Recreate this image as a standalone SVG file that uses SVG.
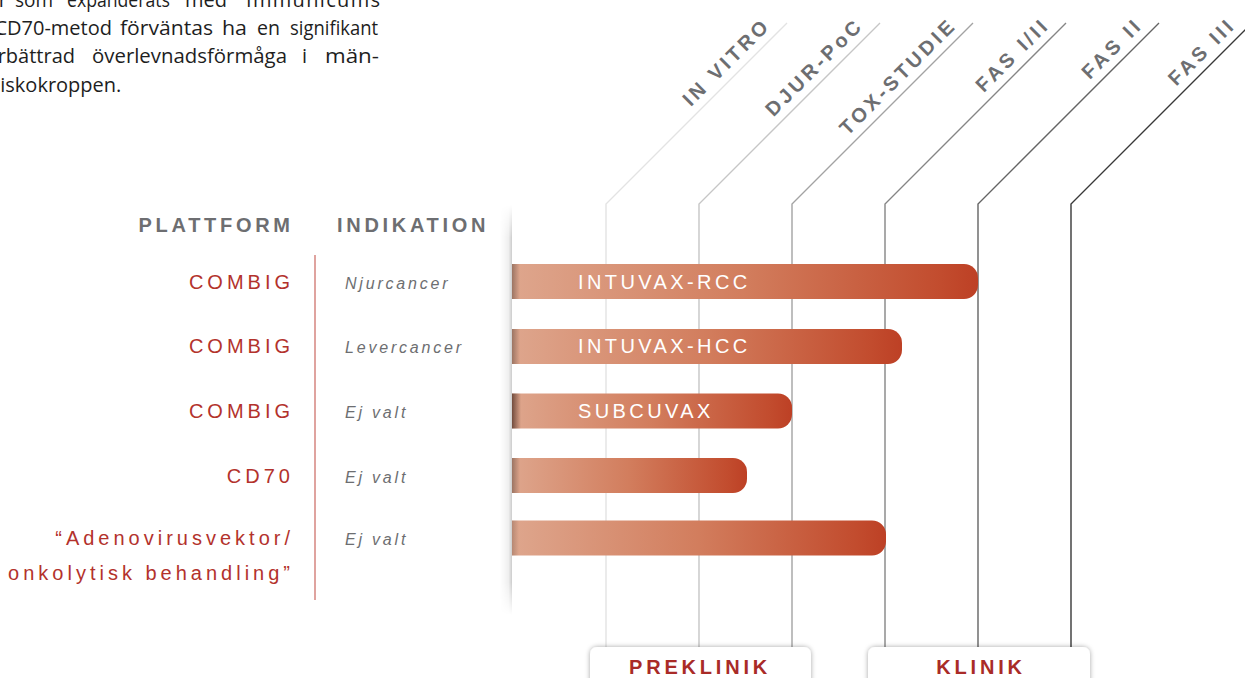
<svg xmlns="http://www.w3.org/2000/svg" width="1245" height="678" viewBox="0 0 1245 678">
  <defs>
    <style>
      .para { font-family: "Open Sans", "Lato", sans-serif; font-size: 20px; fill: #1e1e1e; }
      .hdr { font-family: "Liberation Sans", Arial, sans-serif; font-size: 20px; font-weight: bold; fill: #6d6e71; letter-spacing: 3.7px; }
      .stage { font-family: "Liberation Sans", Arial, sans-serif; font-size: 20px; font-weight: bold; fill: #6d6e71; letter-spacing: 3.5px; text-anchor: end; }
      .plat { font-family: "Liberation Sans", Arial, sans-serif; font-size: 20px; fill: #b3322c; letter-spacing: 4px; text-anchor: end; }
      .ind { font-family: "Liberation Sans", Arial, sans-serif; font-size: 16px; font-style: italic; fill: #6d6e71; letter-spacing: 2.8px; }
      .bartxt { font-family: "Liberation Sans", Arial, sans-serif; font-size: 20px; fill: #ffffff; letter-spacing: 3.4px; }
      .phase { font-family: "Liberation Sans", Arial, sans-serif; font-size: 20px; font-weight: bold; fill: #a92b27; letter-spacing: 3.8px; text-anchor: middle; }
      .bar { fill: url(#barGrad); }
      .vline { fill: none; stroke-width: 1.4; }
      .box { fill: #ffffff; filter: url(#boxShadow); }
    </style>
    <linearGradient id="barGrad" x1="0" y1="0" x2="1" y2="0">
      <stop offset="0" stop-color="#dea68d"/>
      <stop offset="0.5" stop-color="#d27d5d"/>
      <stop offset="0.92" stop-color="#c24c2e"/>
      <stop offset="1" stop-color="#bd4025"/>
    </linearGradient>
    <linearGradient id="edgeShade" x1="0" y1="0" x2="1" y2="0">
      <stop offset="0" stop-color="#000" stop-opacity="0.3"/>
      <stop offset="1" stop-color="#000" stop-opacity="0"/>
    </linearGradient>
    <linearGradient id="edgeShadeDark" x1="0" y1="0" x2="1" y2="0">
      <stop offset="0" stop-color="#2a1008" stop-opacity="0.6"/>
      <stop offset="1" stop-color="#2a1008" stop-opacity="0"/>
    </linearGradient>
    <linearGradient id="panelShadow" x1="0" y1="0" x2="1" y2="0">
      <stop offset="0" stop-color="#000" stop-opacity="0"/>
      <stop offset="0.7" stop-color="#000" stop-opacity="0.06"/>
      <stop offset="1" stop-color="#000" stop-opacity="0.2"/>
    </linearGradient>
    <linearGradient id="vfade" x1="0" y1="0" x2="0" y2="1">
      <stop offset="0" stop-color="#fff" stop-opacity="0"/>
      <stop offset="0.08" stop-color="#fff" stop-opacity="1"/>
      <stop offset="0.92" stop-color="#fff" stop-opacity="1"/>
      <stop offset="1" stop-color="#fff" stop-opacity="0"/>
    </linearGradient>
    <mask id="shadowMask" maskUnits="userSpaceOnUse" x="495" y="200" width="20" height="420">
      <rect x="495" y="205" width="20" height="410" fill="url(#vfade)"/>
    </mask>
    <filter id="boxShadow" x="-10%" y="-40%" width="120%" height="180%">
      <feDropShadow dx="0" dy="0" stdDeviation="2.5" flood-color="#000" flood-opacity="0.35"/>
    </filter>
  </defs>

  <!-- intro paragraph (cropped at the left/top edge) -->
  <g id="intro-text">
    <text class="para" x="7" y="6.7" text-anchor="end">T-celler</text>
    <text class="para" x="15" y="6.7" textLength="38" lengthAdjust="spacingAndGlyphs">som</text>
    <text class="para" x="67" y="6.7" textLength="103" lengthAdjust="spacingAndGlyphs">expanderats</text>
    <text class="para" x="185" y="6.7" textLength="42" lengthAdjust="spacingAndGlyphs">med</text>
    <text class="para" x="246" y="6.7" textLength="134" lengthAdjust="spacing">Immunicums</text>
    <text class="para" x="112" y="35" text-anchor="end">CD70-metod</text>
    <text class="para" x="120" y="35" textLength="93" lengthAdjust="spacingAndGlyphs">förväntas</text>
    <text class="para" x="222" y="35" textLength="25" lengthAdjust="spacingAndGlyphs">ha</text>
    <text class="para" x="257" y="35" textLength="23" lengthAdjust="spacingAndGlyphs">en</text>
    <text class="para" x="290" y="35" textLength="88" lengthAdjust="spacingAndGlyphs">signifikant</text>
    <text class="para" x="75" y="63.3" text-anchor="end">förbättrad</text>
    <text class="para" x="92" y="63.3" textLength="195" lengthAdjust="spacingAndGlyphs">överlevnadsförmåga</text>
    <text class="para" x="302" y="63.3">i</text>
    <text class="para" x="325" y="63.3" textLength="54" lengthAdjust="spacingAndGlyphs">män-</text>
    <text class="para" x="-12" y="91.6">niskokroppen.</text>
  </g>

  <!-- stage connectors (vertical + diagonal lines) -->
  <g id="connectors">
    <path class="vline" stroke="#e3e3e3" d="M606,647 V204 L787,23"/>
    <path class="vline" stroke="#c6c6c6" d="M699,647 V204 L880,23"/>
    <path class="vline" stroke="#a3a3a3" d="M792,647 V204 L973,23"/>
    <path class="vline" stroke="#858585" d="M885,647 V204 L1066,23"/>
    <path class="vline" stroke="#646464" d="M978,647 V204 L1159,23"/>
    <path class="vline" stroke="#383838" d="M1071,647 V204 L1252,23"/>
    <line x1="315" y1="255" x2="315" y2="600" stroke="#d4847f" stroke-width="1.5"/>
  </g>

  <!-- stage labels -->
  <g id="stage-in-vitro"><text class="stage" transform="translate(771.8,26.2) rotate(-45)">IN VITRO</text></g>
  <g id="stage-djur-poc"><text class="stage" transform="translate(864.8,26.2) rotate(-45)">DJUR-PoC</text></g>
  <g id="stage-tox-studie"><text class="stage" transform="translate(957.8,26.2) rotate(-45)">TOX-STUDIE</text></g>
  <g id="stage-fas-1-2"><text class="stage" transform="translate(1050.8,26.2) rotate(-45)">FAS I/II</text></g>
  <g id="stage-fas-2"><text class="stage" transform="translate(1143.8,26.2) rotate(-45)">FAS II</text></g>
  <g id="stage-fas-3"><text class="stage" transform="translate(1236.8,26.2) rotate(-45)">FAS III</text></g>

  <!-- headers -->
  <g id="headers">
    <text class="hdr" x="293.7" y="231.5" text-anchor="end">PLATTFORM</text>
    <text class="hdr" x="337" y="231.5">INDIKATION</text>
  </g>

  <!-- panel edge shadow -->
  <rect x="500" y="205" width="12" height="410" fill="url(#panelShadow)" mask="url(#shadowMask)"/>

  <!-- rows -->
  <g id="row-intuvax-rcc">
    <text class="plat" x="294" y="289">COMBIG</text>
    <text class="ind" x="345" y="288.5">Njurcancer</text>
    <path class="bar" d="M512,264 H964 A14,14 0 0 1 978,278 V285 A14,14 0 0 1 964,299 H512 Z"/>
    <rect x="512" y="264" width="8" height="35" fill="url(#edgeShade)"/>
    <text class="bartxt" x="578" y="289.3">INTUVAX-RCC</text>
  </g>
  <g id="row-intuvax-hcc">
    <text class="plat" x="294" y="353.3">COMBIG</text>
    <text class="ind" x="345" y="353">Levercancer</text>
    <path class="bar" d="M512,329 H888 A14,14 0 0 1 902,343 V350 A14,14 0 0 1 888,364 H512 Z"/>
    <rect x="512" y="329" width="8" height="35" fill="url(#edgeShade)"/>
    <text class="bartxt" x="578" y="353.3">INTUVAX-HCC</text>
  </g>
  <g id="row-subcuvax">
    <text class="plat" x="294" y="418">COMBIG</text>
    <text class="ind" x="345" y="418">Ej valt</text>
    <path class="bar" d="M512,393.5 H778 A14,14 0 0 1 792,407.5 V414.5 A14,14 0 0 1 778,428.5 H512 Z"/>
    <rect x="512" y="393.5" width="9" height="35" fill="url(#edgeShadeDark)"/>
    <text class="bartxt" x="578" y="417.7">SUBCUVAX</text>
  </g>
  <g id="row-cd70">
    <text class="plat" x="294" y="483">CD70</text>
    <text class="ind" x="345" y="483">Ej valt</text>
    <path class="bar" d="M512,458 H733 A14,14 0 0 1 747,472 V479 A14,14 0 0 1 733,493 H512 Z"/>
    <rect x="512" y="458" width="8" height="35" fill="url(#edgeShade)"/>
  </g>
  <g id="row-adenovirus">
    <text class="plat" x="294" y="545">“Adenovirusvektor/</text>
    <text class="plat" x="294" y="580">onkolytisk behandling”</text>
    <text class="ind" x="345" y="545">Ej valt</text>
    <path class="bar" d="M512,520.5 H872 A14,14 0 0 1 886,534.5 V541.5 A14,14 0 0 1 872,555.5 H512 Z"/>
    <rect x="512" y="520.5" width="7" height="35" fill="url(#edgeShade)" opacity="0.6"/>
  </g>

  <!-- phase boxes -->
  <g id="phase-preklinik">
    <rect class="box" x="590" y="647" width="221" height="45" rx="7"/>
    <text class="phase" x="700" y="674">PREKLINIK</text>
  </g>
  <g id="phase-klinik">
    <rect class="box" x="868" y="647" width="222" height="45" rx="7"/>
    <text class="phase" x="981" y="674">KLINIK</text>
  </g>
</svg>
